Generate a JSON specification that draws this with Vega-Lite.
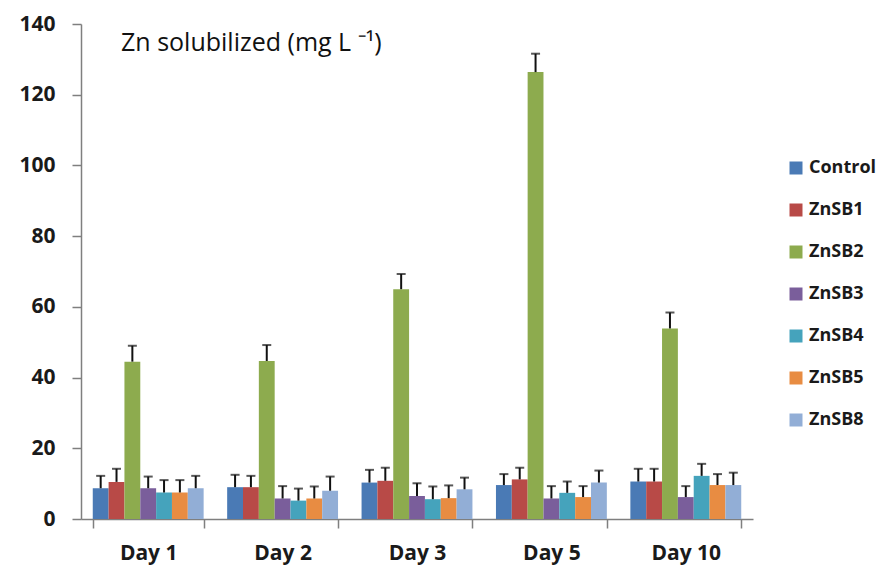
{
  "$schema": "https://vega.github.io/schema/vega-lite/v6.json",
  "width": 672,
  "height": 495,
  "autosize": {"type": "none"},
  "padding": {"left": 81, "top": 24, "right": 127, "bottom": 47},
  "background": "white",
  "config": {"view": {"stroke": null}, "font": "Open Sans"},
  "title": {
    "text": "Zn solubilized (mg L ⁻¹)",
    "anchor": "start",
    "frame": "group",
    "dx": 40,
    "offset": -63,
    "fontSize": 25,
    "fontWeight": "normal",
    "font": "Open Sans",
    "color": "#111111",
    "baseline": "alphabetic"
  },
  "data": {
    "values": [
      {"day": "Day 1", "sample": "Control", "zn": 8.7, "upper": 12.2},
      {"day": "Day 1", "sample": "ZnSB1", "zn": 10.5, "upper": 14.2},
      {"day": "Day 1", "sample": "ZnSB2", "zn": 44.5, "upper": 49.0},
      {"day": "Day 1", "sample": "ZnSB3", "zn": 8.7, "upper": 12.0},
      {"day": "Day 1", "sample": "ZnSB4", "zn": 7.5, "upper": 11.0},
      {"day": "Day 1", "sample": "ZnSB5", "zn": 7.5, "upper": 11.0},
      {"day": "Day 1", "sample": "ZnSB8", "zn": 8.7, "upper": 12.2},
      {"day": "Day 2", "sample": "Control", "zn": 9.0, "upper": 12.5},
      {"day": "Day 2", "sample": "ZnSB1", "zn": 9.0, "upper": 12.2},
      {"day": "Day 2", "sample": "ZnSB2", "zn": 44.7, "upper": 49.2},
      {"day": "Day 2", "sample": "ZnSB3", "zn": 5.8, "upper": 9.3},
      {"day": "Day 2", "sample": "ZnSB4", "zn": 5.2, "upper": 8.6},
      {"day": "Day 2", "sample": "ZnSB5", "zn": 5.8, "upper": 9.2},
      {"day": "Day 2", "sample": "ZnSB8", "zn": 8.0, "upper": 12.0},
      {"day": "Day 3", "sample": "Control", "zn": 10.3, "upper": 13.9},
      {"day": "Day 3", "sample": "ZnSB1", "zn": 10.8, "upper": 14.5},
      {"day": "Day 3", "sample": "ZnSB2", "zn": 65.0, "upper": 69.3},
      {"day": "Day 3", "sample": "ZnSB3", "zn": 6.5, "upper": 10.1},
      {"day": "Day 3", "sample": "ZnSB4", "zn": 5.6, "upper": 9.2},
      {"day": "Day 3", "sample": "ZnSB5", "zn": 5.9, "upper": 9.5},
      {"day": "Day 3", "sample": "ZnSB8", "zn": 8.4, "upper": 11.7},
      {"day": "Day 5", "sample": "Control", "zn": 9.6, "upper": 12.7},
      {"day": "Day 5", "sample": "ZnSB1", "zn": 11.2, "upper": 14.5},
      {"day": "Day 5", "sample": "ZnSB2", "zn": 126.4, "upper": 131.6},
      {"day": "Day 5", "sample": "ZnSB3", "zn": 5.8, "upper": 9.3},
      {"day": "Day 5", "sample": "ZnSB4", "zn": 7.4, "upper": 10.6},
      {"day": "Day 5", "sample": "ZnSB5", "zn": 6.2, "upper": 9.3},
      {"day": "Day 5", "sample": "ZnSB8", "zn": 10.3, "upper": 13.7},
      {"day": "Day 10", "sample": "Control", "zn": 10.6, "upper": 14.2},
      {"day": "Day 10", "sample": "ZnSB1", "zn": 10.6, "upper": 14.2},
      {"day": "Day 10", "sample": "ZnSB2", "zn": 53.9, "upper": 58.4},
      {"day": "Day 10", "sample": "ZnSB3", "zn": 6.2, "upper": 9.3},
      {"day": "Day 10", "sample": "ZnSB4", "zn": 12.2, "upper": 15.6},
      {"day": "Day 10", "sample": "ZnSB5", "zn": 9.6, "upper": 12.7},
      {"day": "Day 10", "sample": "ZnSB8", "zn": 9.6, "upper": 13.1}
    ]
  },
  "encoding": {
    "x": {
      "field": "day",
      "type": "nominal",
      "sort": ["Day 1", "Day 2", "Day 3", "Day 5", "Day 10"],
      "scale": {"paddingInner": 0.175, "paddingOuter": 0.0875},
      "axis": {
        "title": null,
        "labelAngle": 0,
        "tickBand": "extent",
        "tickSize": 9,
        "tickColor": "#7f7f7f",
        "domainColor": "#7f7f7f",
        "domainWidth": 1.5,
        "tickWidth": 1.5,
        "labelFontSize": 21,
        "labelFontWeight": "bold",
        "labelFont": "Open Sans",
        "labelColor": "#1a1a1a",
        "labelPadding": 14,
        "grid": false
      }
    },
    "xOffset": {
      "field": "sample",
      "type": "nominal",
      "sort": ["Control", "ZnSB1", "ZnSB2", "ZnSB3", "ZnSB4", "ZnSB5", "ZnSB8"],
      "scale": {"paddingInner": 0, "paddingOuter": 0}
    }
  },
  "layer": [
    {
      "mark": {"type": "bar"},
      "encoding": {
        "y": {
          "field": "zn",
          "type": "quantitative",
          "scale": {"domain": [0, 140], "nice": false},
          "axis": {
            "title": null,
            "values": [0, 20, 40, 60, 80, 100, 120, 140],
            "grid": false,
            "tickSize": 9,
            "tickColor": "#7f7f7f",
            "tickWidth": 1.5,
            "domainColor": "#7f7f7f",
            "domainWidth": 1.5,
            "labelFontSize": 21,
            "labelFontWeight": "bold",
            "labelFont": "Open Sans",
            "labelColor": "#1a1a1a",
            "labelPadding": 17
          }
        },
        "color": {
          "field": "sample",
          "type": "nominal",
          "sort": ["Control", "ZnSB1", "ZnSB2", "ZnSB3", "ZnSB4", "ZnSB5", "ZnSB8"],
          "scale": {
            "domain": ["Control", "ZnSB1", "ZnSB2", "ZnSB3", "ZnSB4", "ZnSB5", "ZnSB8"],
            "range": ["#4A7AB5", "#B84A47", "#8DAB4E", "#7A5E9B", "#45A3BC", "#E88C42", "#92AED6"]
          },
          "legend": {
            "title": null,
            "orient": "none",
            "legendX": 706,
            "legendY": 135,
            "symbolType": "square",
            "symbolSize": 169,
            "symbolStrokeWidth": 0,
            "labelFontSize": 18,
            "labelFontWeight": "bold",
            "labelFont": "Open Sans",
            "labelColor": "#1a1a1a",
            "labelOffset": 4,
            "rowPadding": 24,
            "labelLimit": 300,
            "padding": 0
          }
        }
      }
    },
    {
      "mark": {"type": "rule", "color": "#111111", "strokeWidth": 2},
      "encoding": {
        "y": {"field": "zn", "type": "quantitative"},
        "y2": {"field": "upper"}
      }
    },
    {
      "mark": {"type": "tick", "color": "#111111", "thickness": 2, "size": 9, "orient": "horizontal"},
      "encoding": {
        "y": {"field": "upper", "type": "quantitative"}
      }
    }
  ]
}
